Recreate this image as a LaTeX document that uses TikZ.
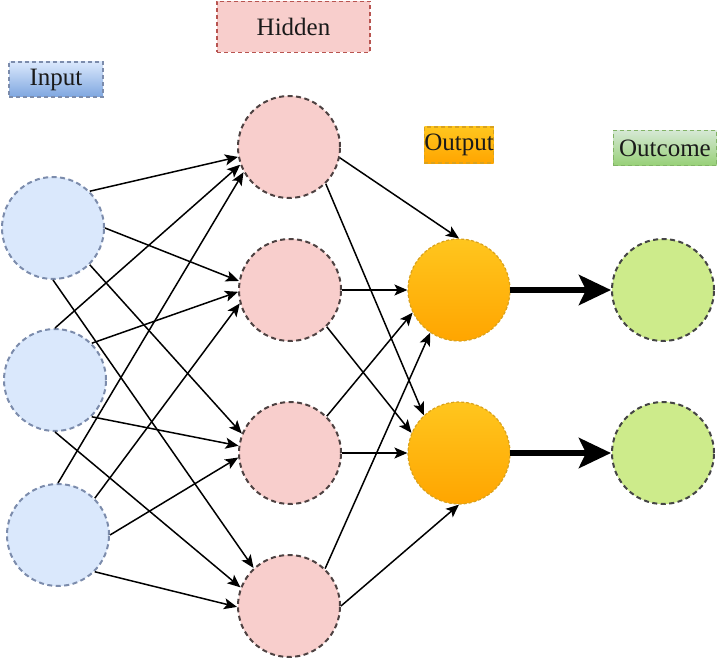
\documentclass[tikz,border=0pt]{standalone}
\usepackage{fontspec}
\setmainfont{Liberation Serif}
\usetikzlibrary{arrows.meta}
\definecolor{inFill}{HTML}{DAE8FC}
\definecolor{inLine}{HTML}{7C8CAC}
\definecolor{hidFill}{HTML}{F8CECC}
\definecolor{hidLine}{HTML}{4E4242}
\definecolor{outTop}{HTML}{FFC61E}
\definecolor{outBot}{HTML}{FFA500}
\definecolor{outLine}{HTML}{D9A21E}
\definecolor{ocFill}{HTML}{CDEB8B}
\definecolor{ocLine}{HTML}{454545}
\definecolor{lblInTop}{HTML}{DAE8FC}
\definecolor{lblInBot}{HTML}{7EA6E0}
\definecolor{lblHidLine}{HTML}{B85450}
\definecolor{lblOcTop}{HTML}{D5E8D4}
\definecolor{lblOcBot}{HTML}{97D077}
\definecolor{lblOcLine}{HTML}{82B366}
\definecolor{txt}{HTML}{1A1A1A}
\tikzset{
  neuron/.style={circle, minimum size=102pt, inner sep=0pt, line width=2pt, dash pattern=on 5pt off 3.5pt},
  inneuron/.style={neuron, fill=inFill, draw=inLine},
  hidneuron/.style={neuron, fill=hidFill, draw=hidLine},
  outneuron/.style={neuron, top color=outTop, bottom color=outBot, draw=outLine, line width=1.2pt, dash pattern=on 3pt off 2pt},
  ocneuron/.style={neuron, fill=ocFill, draw=ocLine},
  lbl/.style={inner sep=0pt, line width=1.2pt, dash pattern=on 4pt off 3pt, text=txt, font=\fontsize{25}{29}\selectfont},
  conn/.style={line width=1.5pt, draw=black, -{Stealth[length=13pt,width=11pt,inset=3pt]}},
  bigconn/.style={line width=6pt, draw=black, -{Stealth[length=32pt,width=30pt,inset=7pt]}, shorten <=-0.5pt}
}
\begin{document}
\begin{tikzpicture}[x=1pt,y=-1pt]
\useasboundingbox (0,0) rectangle (717,658);
% labels
\node[lbl, minimum width=94pt, minimum height=35pt, top color=lblInTop, bottom color=lblInBot, draw=inLine] (linput) at (56,79.5) {Input};
\node[lbl, minimum width=153pt, minimum height=51pt, fill=hidFill, draw=lblHidLine] (lhidden) at (293.5,27) {Hidden};
\node[lbl, minimum width=68pt, minimum height=36pt, top color=outTop, bottom color=outBot, draw=outLine] (loutput) at (459,145) {Output};
\node[lbl, minimum width=103pt, minimum height=35pt, top color=lblOcTop, bottom color=lblOcBot, draw=lblOcLine] (loutcome) at (665,148) {Outcome};
% neurons
\node[inneuron] (i1) at (53,228) {};
\node[inneuron] (i2) at (55,380) {};
\node[inneuron] (i3) at (58,535) {};
\node[hidneuron] (h1) at (289,147) {};
\node[hidneuron] (h2) at (290,290) {};
\node[hidneuron] (h3) at (290,453) {};
\node[hidneuron] (h4) at (289,606) {};
\node[outneuron] (o1) at (459,290) {};
\node[outneuron] (o2) at (459,453) {};
\node[ocneuron] (c1) at (663,290) {};
\node[ocneuron] (c2) at (663,453) {};
% input -> hidden
\draw[conn] (i1.45) -- (h1.191);
\draw[conn] (i1.0) -- (h2.170);
\draw[conn] (i1.-45) -- (h3.158);
\draw[conn] (i1.-90) -- (h4.133);
\draw[conn] (i2.90) -- (h1.200);
\draw[conn] (i2.45) -- (h2.182);
\draw[conn] (i2.-45) -- (h3.172);
\draw[conn] (i2.-90) -- (h4.159);
\draw[conn] (i3.90) -- (h1.209);
\draw[conn] (i3.45) -- (h2.195);
\draw[conn] (i3.0) -- (h3.185);
\draw[conn] (i3.-45) -- (h4.181);
% hidden -> output
\draw[conn] (h1.-12) -- (o1.north);
\draw[conn] (h1.-45) -- (o2.133);
\draw[conn] (h2.0) -- (o1.180);
\draw[conn] (h2.-45) -- (o2.157);
\draw[conn] (h3.45) -- (o1.206);
\draw[conn] (h3.0) -- (o2.180);
\draw[conn] (h4.46) -- (o1.236);
\draw[conn] (h4.0) -- (o2.south);
% output -> outcome
\draw[bigconn] (o1.east) -- (c1.west);
\draw[bigconn] (o2.east) -- (c2.west);
\end{tikzpicture}
\end{document}
